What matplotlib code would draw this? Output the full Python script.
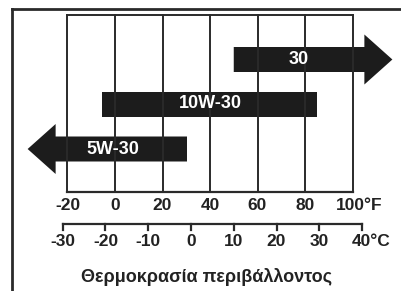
import matplotlib.pyplot as plt
import numpy as np

# oil grades and their temperature ranges in deg C (None = open ended arrow)
grades = ["30", "10W-30", "5W-30"]
range_lo = [10, -20, None]
range_hi = [None, 30, 0]

f_ticks = [-20, 0, 20, 40, 60, 80, 100]
c_ticks = [-30, -20, -10, 0, 10, 20, 30, 40]
title = "Θερμοκρασία περιβάλλοντος"

plt.rcParams['font.family'] = ['Liberation Sans', 'DejaVu Sans']

def c2f(c):
    return c * 9.0 / 5.0 + 32

fig = plt.figure(figsize=(4.01, 2.91), dpi=100)
ax = fig.add_axes([0, 0, 1, 1])
# x in Fahrenheit, y in pixels from top
px_per_f = 2.375
x0 = 115
ax.set_xlim((0 - x0) / px_per_f, (401 - x0) / px_per_f)
ax.set_ylim(291, 0)
ax.axis('off')

def px(p):
    return p / px_per_f

dark = "#1c1c1c"
line = "#2a2a2a"
txt = "#222222"
lab_fs = 12.5

# outer frame (left and top only visible)
xl = ax.get_xlim()[0] + px(12)
ax.plot([xl, xl], [291, 9], color=line, lw=2)
ax.plot([xl, ax.get_xlim()[1]], [9, 9], color=line, lw=2)

# grid box in F
top, bot = 15, 192
for f in f_ticks:
    ax.plot([f, f], [top, bot], color=line, lw=1.4)
ax.plot([f_ticks[0], f_ticks[-1]], [top, top], color=line, lw=1.4)
ax.plot([f_ticks[0], f_ticks[-1]], [bot, bot], color=line, lw=1.6)

# bars / arrows
row_y = [59.5, 104, 149]
bar_h = 25
head_h = 50
head_len = px(28)
left_base, right_base = -25, 105
for name, lo, hi, yc in zip(grades, range_lo, range_hi, row_y):
    y1, y2 = yc - bar_h / 2, yc + bar_h / 2
    h1, h2 = yc - head_h / 2, yc + head_h / 2
    if hi is None:
        xs = c2f(lo)
        xs_poly = [xs, right_base, right_base, right_base + head_len,
                   right_base, right_base, xs]
        ys_poly = [y1, y1, h1, yc, h2, y2, y2]
        xc = (xs + right_base) / 2
    elif lo is None:
        xe = c2f(hi) - px(4)
        xs_poly = [xe, left_base, left_base, left_base - head_len,
                   left_base, left_base, xe]
        ys_poly = [y1, y1, h1, yc, h2, y2, y2]
        xc = (xe + left_base) / 2 - px(8)
    else:
        xs, xe = c2f(lo) - px(3), c2f(hi) - px(2)
        xs_poly = [xs, xe, xe, xs]
        ys_poly = [y1, y1, y2, y2]
        xc = (xs + xe) / 2
    ax.fill(xs_poly, ys_poly, color=dark, lw=0)
    ax.text(xc, yc, name, color="white", fontsize=13, fontweight="bold",
            ha="center", va="center")

# Fahrenheit labels
for f in f_ticks:
    if f == f_ticks[-1]:
        ax.text(f - px(17), 205, "%d°F" % f, fontsize=lab_fs, fontweight="bold",
                color=txt, ha="left", va="center")
    else:
        ax.text(f, 205, "%d" % f, fontsize=lab_fs, fontweight="bold",
                color=txt, ha="center", va="center")

# Celsius scale
cy = 224
ax.plot([c2f(c_ticks[0]), c2f(c_ticks[-1])], [cy, cy], color=line, lw=1.6)
for c in c_ticks:
    ax.plot([c2f(c), c2f(c)], [cy, cy + 6], color=line, lw=1.6)
    if c == c_ticks[-1]:
        ax.text(c2f(c) - px(10), 241, "%d°C" % c, fontsize=lab_fs,
                fontweight="bold", color=txt, ha="left", va="center")
    else:
        ax.text(c2f(c), 241, "%d" % c, fontsize=lab_fs, fontweight="bold",
                color=txt, ha="center", va="center")

ax.text(px(207 - x0), 277, title, fontsize=13, fontweight="bold",
        color=txt, ha="center", va="center")

fig.savefig("out.png", dpi=100)
